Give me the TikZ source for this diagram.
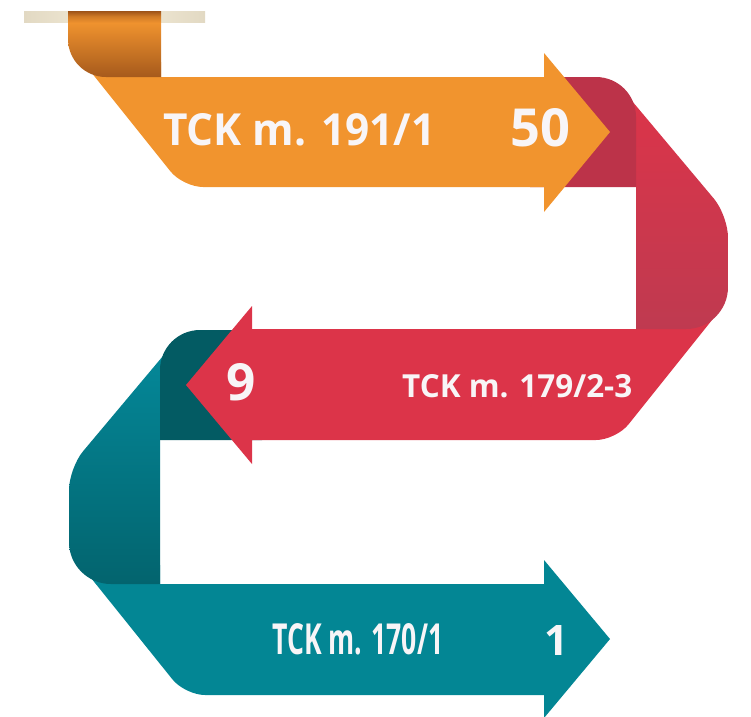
\documentclass[tikz,border=0pt]{standalone}
\usepackage{fontspec}
\setmainfont{Open Sans}
\usepackage{graphicx}
\definecolor{orangeband}{HTML}{F1942E}
\definecolor{tabbot}{HTML}{A65A1C}
\definecolor{taborange}{HTML}{EF922E}
\definecolor{tabmid}{HTML}{D07A26}
\definecolor{tabtop}{HTML}{9C5218}
\definecolor{beigedark}{HTML}{E2D9C3}
\definecolor{beigelight}{HTML}{F4EDD9}
\definecolor{redband}{HTML}{DC3449}
\definecolor{redfold}{HTML}{BC3349}
\definecolor{redvtop}{HTML}{DD3449}
\definecolor{redvbot}{HTML}{BF3A50}
\definecolor{tealband}{HTML}{038694}
\definecolor{tealfold}{HTML}{035B63}
\definecolor{tealvtop}{HTML}{04899A}
\definecolor{tealvbot}{HTML}{03646E}
\definecolor{txtwhite}{HTML}{F8F5F7}
\pgfdeclareverticalshading{tabshade}{100bp}{color(0bp)=(tabbot); color(25bp)=(tabbot); color(66bp)=(taborange); color(71bp)=(tabmid); color(75bp)=(tabtop); color(100bp)=(tabtop)}
\begin{document}
\begin{tikzpicture}[x=1pt,y=-1pt,
  lbl/.style={text=txtwhite, inner sep=0pt, anchor=base west, font=\bfseries},
  num/.style={text=txtwhite, inner sep=0pt, anchor=base, font=\bfseries}]
\useasboundingbox (0,0) rectangle (751,716);
\begin{scope}
\clip (0,0) rectangle (751,716);
% teal bottom band
\fill[tealband] (80.6,565) -- (160,565) -- (160,584) -- (544,584) -- (544,560) -- (610,639) -- (544,718) -- (544,695)
  [rounded corners=20pt] -- (185,695) [sharp corners] -- cycle;
% teal vertical piece
\shade[top color=tealvtop, bottom color=tealvbot] (172.2,345) [rounded corners=22pt] -- (69,468) [rounded corners=42pt] -- (69,584) [sharp corners] -- (160,584) -- (160,400) -- cycle;
% teal fold
\fill[tealfold] (160,440) [rounded corners=40pt] -- (160,330) [sharp corners] -- (262,330) -- (262,440) -- cycle;
% red middle band
\fill[redband] (186,385) -- (252,306) -- (252,329) -- (636,329) -- (636,315) -- (716,315)
  [rounded corners=20pt] -- (616,440) [sharp corners] -- (252,440) -- (252,464) -- cycle;
% red vertical piece
\shade[top color=redvtop, bottom color=redvbot] (618.6,85) [rounded corners=22pt] -- (728,215.5) [rounded corners=42pt] -- (728,329) [sharp corners] -- (636,329) -- (636,140) -- cycle;
% red fold
\fill[redfold] (636,187) [rounded corners=40pt] -- (636,77) [sharp corners] -- (530,77) -- (530,187) -- cycle;
% orange band
\fill[orangeband] (83,62) -- (161,62) -- (161,77) -- (544,77) -- (544,53) -- (610,132) -- (544,212) -- (544,187)
  [rounded corners=20pt] -- (183,187) [sharp corners] -- cycle;
% beige bar
\shade[left color=beigedark, right color=beigedark, middle color=beigelight] (24,11) rectangle (205,22);
% orange tab
\shade[shading=tabshade] (68,11) -- (161,11) -- (161,77) [rounded corners=38pt] -- (68,77) [sharp corners] -- cycle;
\end{scope}
% texts
\node[lbl] (t1) at (163,145) {\resizebox{272pt}{32pt}{TCK m. 191/1}};
\node[num] (n1) at (540.5,146) {\resizebox{!}{38pt}{50}};
\node[num] (n2) at (241,400) {\resizebox{!}{37pt}{9}};
\node[lbl] (t2) at (402,397) {\resizebox{230pt}{23pt}{TCK m. 179/2-3}};
\node[lbl] (t3) at (272,654) {\resizebox{171pt}{31pt}{TCK m. 170/1}};
\node[num] (n3) at (556.5,655) {\resizebox{!}{30pt}{1}};
\end{tikzpicture}
\end{document}
